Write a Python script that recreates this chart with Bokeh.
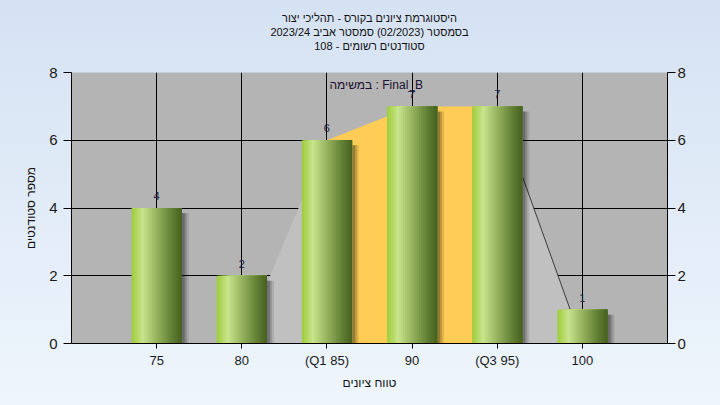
import numpy as np
from bokeh.plotting import figure
from bokeh.models import Range1d, LinearAxis, FixedTicker, Title, Label
from bokeh.embed import file_html
from bokeh.resources import INLINE
from bokeh.core.properties import value

# ---- data ----
categories = ["75", "80", "(Q1 85)", "90", "(Q3 95)", "100"]
counts = [4, 2, 6, 7, 7, 1]
curve = [0, 0, 6, 7, 7, 0]
q1_index, q3_index = 2, 4
y_ticks = [0, 2, 4, 6, 8]
title_lines = [
    "היסטוגרמת ציונים בקורס - תהליכי יצור",
    "בסמסטר (02/2023) סמסטר אביב 2023/24",
    "סטודנטים רשומים - 108",
]
note_text = "במשימה : Final_B"
x_label = "טווח ציונים"
y_label = "מספר סטודנטים"

FONT = "Liberation Sans"
xs = list(range(1, len(categories) + 1))

p = figure(width=720, height=405,
           x_range=Range1d(0, len(categories) + 1), y_range=Range1d(0, 8),
           output_backend="svg", toolbar_location=None,
           min_border_left=71, min_border_right=53,
           min_border_top=72, min_border_bottom=62)
p.border_fill_alpha = 0
p.background_fill_color = "#b4b4b4"
p.outline_line_color = None

# titles (first added is closest to the frame)
p.add_layout(Title(text=" ", text_font_size="17px", standoff=0), "above")
for txt in reversed(title_lines):
    t = Title(text=txt, align="center", text_font=FONT, text_font_size="11px",
              text_font_style="normal", text_color="#111111", standoff=0)
    p.add_layout(t, "above")

# grid
p.xgrid.ticker = FixedTicker(ticks=xs)
p.ygrid.ticker = FixedTicker(ticks=y_ticks)
for g in (p.xgrid, p.ygrid):
    g.grid_line_color = "black"
    g.grid_line_alpha = 1.0
    g.grid_line_width = 1

# axes
p.xaxis.ticker = FixedTicker(ticks=xs)
p.xaxis.major_label_overrides = {x: c for x, c in zip(xs, categories)}
p.xaxis.axis_label = x_label
p.yaxis.ticker = FixedTicker(ticks=y_ticks)
p.yaxis.axis_label = y_label
right = LinearAxis(ticker=FixedTicker(ticks=y_ticks))
p.add_layout(right, "right")

for ax in p.xaxis:
    ax.major_tick_out = 5
    ax.major_tick_in = 0
    ax.minor_tick_line_color = None
    ax.major_label_standoff = 4
    ax.major_label_text_font = FONT
    ax.major_label_text_font_size = "13px"
    ax.major_label_text_color = "#1a1a1a"
    ax.axis_label_standoff = 5
    ax.axis_label_text_font = FONT
    ax.axis_label_text_font_size = "12px"
    ax.axis_label_text_font_style = "normal"
    ax.axis_label_text_color = "#111111"
    ax.axis_line_color = "black"
for ax in p.yaxis:
    ax.major_tick_out = 8
    ax.major_tick_in = 0
    ax.minor_tick_line_color = None
    ax.major_label_text_font = FONT
    ax.major_label_text_font_size = "15px"
    ax.major_label_text_color = "#1a1a1a"
    ax.axis_label_text_font = FONT
    ax.axis_label_text_font_size = "12px"
    ax.axis_label_text_font_style = "normal"
    ax.axis_label_text_color = "#111111"
    ax.axis_line_color = "black"
p.yaxis[0].major_label_standoff = 6
p.yaxis[0].axis_label_standoff = 8
right.major_label_standoff = 2

# area under curve: light gray outside Q1..Q3, orange inside
p.varea(x=xs[:q1_index + 1], y1=0, y2=curve[:q1_index + 1], fill_color="#c0c0c0")
p.varea(x=xs[q1_index:q3_index + 1], y1=0, y2=curve[q1_index:q3_index + 1], fill_color="#ffcc55")
p.varea(x=xs[q3_index:], y1=0, y2=curve[q3_index:], fill_color="#c0c0c0")
p.line(x=xs[q3_index:], y=curve[q3_index:], line_color="#3c3c3c", line_width=1)

# bars with shadow and cylinder-like gradient
bw = 0.59
px_x = 7 / 596.0
px_y = 8 / 271.0
for off, a in [(7, 0.10), (5, 0.15), (3, 0.22)]:
    p.vbar(x=[x + off * px_x for x in xs], width=bw, bottom=0,
           top=[c - 5 * px_y for c in counts], fill_color="black", fill_alpha=a, line_color=None)

stops = [(0.0, (158, 204, 58)), (0.22, (200, 228, 140)), (0.5, (150, 180, 95)),
         (0.8, (98, 128, 52)), (1.0, (70, 96, 32))]

def grad(t):
    for (t0, c0), (t1, c1) in zip(stops[:-1], stops[1:]):
        if t <= t1:
            f = (t - t0) / (t1 - t0)
            return "#%02x%02x%02x" % tuple(int(round(a + (b - a) * f)) for a, b in zip(c0, c1))
    return "#%02x%02x%02x" % stops[-1][1]

n = 25
sw = bw / n
for k in range(n):
    t = (k + 0.5) / n
    p.quad(left=[x - bw / 2 + sw * k for x in xs], right=[x + bw / 2 for x in xs],
           bottom=0, top=counts, fill_color=grad(t), line_color=None)

# value labels
p.text(x=xs, y=counts, text=[str(c) for c in counts], text_align="center",
       text_baseline="bottom", y_offset=-8, text_font=value(FONT),
       text_font_size="11px", text_color="#202040")

p.add_layout(Label(x=3.03, y=7.62, text=note_text, text_baseline="middle", text_align="left",
                   text_font=FONT, text_font_size="12px", text_color="#201030"))

html = file_html(p, INLINE)
style = ("<style>html,body{min-height:100%;background:linear-gradient(to bottom,#d5e2f3 0%,#eef5fc 100%) "
         "no-repeat;background-attachment:fixed;}</style>")
html = html.replace("</head>", style + "</head>", 1)
open("out.html", "w").write(html)
